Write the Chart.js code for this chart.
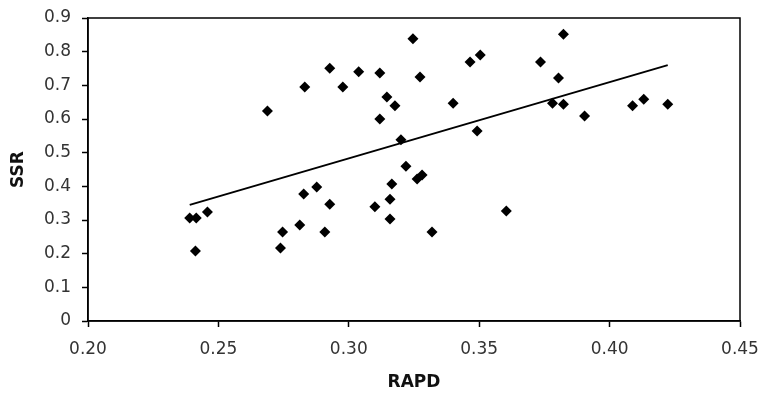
<!DOCTYPE html>
<html lang="en">
<head>
    <meta charset="UTF-8">
    <title>SSR vs RAPD</title>
    <script src="https://cdn.jsdelivr.net/npm/chart.js"></script>
    <style>
        body { margin: 0; background: #fff; }
    </style>
</head>
<body>
    <canvas id="grafico" width="761" height="397"></canvas>

<script>
    // valores
    var rapd = [0.239, 0.2415, 0.2458, 0.2412, 0.2688, 0.2746, 0.2738, 0.2812, 0.2827, 0.2877,
        0.2927, 0.2908, 0.2831, 0.2927, 0.2977, 0.3038, 0.3119, 0.3246, 0.3146, 0.3177,
        0.3119, 0.3273, 0.3200, 0.3219, 0.3262, 0.3281, 0.3165, 0.3158, 0.3100, 0.3158,
        0.3319, 0.3400, 0.3465, 0.3504, 0.3492, 0.3604, 0.3823, 0.3735, 0.3804, 0.3781,
        0.3823, 0.3904, 0.4088, 0.4131, 0.4223];
    var ssr = [0.306, 0.306, 0.324, 0.208, 0.624, 0.264, 0.217, 0.285, 0.377, 0.398,
        0.347, 0.264, 0.695, 0.751, 0.695, 0.740, 0.737, 0.838, 0.665, 0.639,
        0.600, 0.725, 0.538, 0.460, 0.422, 0.434, 0.407, 0.362, 0.339, 0.303,
        0.264, 0.647, 0.769, 0.790, 0.564, 0.327, 0.852, 0.769, 0.722, 0.647,
        0.644, 0.609, 0.639, 0.659, 0.644];

    // linha de tendencia (extremos)
    var tendenciaX = [0.239, 0.4223];
    var tendenciaY = [0.345, 0.760];

    var ticksX = ['0.20', '0.25', '0.30', '0.35', '0.40', '0.45'];
    var ticksY = ['0', '0.1', '0.2', '0.3', '0.4', '0.5', '0.6', '0.7', '0.8', '0.9'];

    var pontos = [];
    for (var i = 0; i < rapd.length; i++) {
        pontos.push({ x: rapd[i], y: ssr[i] });
    }
    var linha = [];
    for (var j = 0; j < tendenciaX.length; j++) {
        linha.push({ x: tendenciaX[j], y: tendenciaY[j] });
    }

    // moldura em volta da area do grafico
    const moldura = {
        id: 'moldura',
        afterDraw(chart) {
            const a = chart.chartArea;
            const ctx = chart.ctx;
            ctx.save();
            ctx.strokeStyle = '#000';
            ctx.lineWidth = 1.5;
            ctx.strokeRect(a.left, a.top, a.right - a.left, a.bottom - a.top);
            ctx.restore();
        }
    };

    const fonteTicks = { family: 'DejaVu Sans', size: 17 };
    const fonteTitulo = { family: 'DejaVu Sans', size: 17, weight: 'bold' };

    new Chart(document.getElementById('grafico'), {
        type: 'scatter',
        data: {
            datasets: [{
                data: pontos,
                pointStyle: 'rectRot',
                pointRadius: 5.5,
                pointHoverRadius: 5.5,
                backgroundColor: '#000',
                borderColor: '#000',
                borderWidth: 0
            }, {
                data: linha,
                showLine: true,
                pointRadius: 0,
                borderColor: '#000',
                borderWidth: 2
            }]
        },
        options: {
            responsive: false,
            animation: false,
            layout: { padding: { left: 0, top: 18, right: 21, bottom: 0 } },
            plugins: {
                legend: { display: false },
                tooltip: { enabled: false }
            },
            scales: {
                x: {
                    type: 'linear',
                    min: 0.2,
                    max: 0.45,
                    afterFit: function (s) {
                        s.height = 76;
                        s.paddingLeft = 0;
                        s.paddingRight = 0;
                    },
                    afterBuildTicks: function (s) {
                        s.ticks = ticksX.map(function (t) { return { value: parseFloat(t) }; });
                    },
                    ticks: {
                        color: '#333',
                        font: fonteTicks,
                        padding: 12,
                        maxRotation: 0,
                        callback: function (v, idx) { return ticksX[idx]; }
                    },
                    grid: { drawOnChartArea: false, tickLength: 6, color: '#000', tickWidth: 1.5 },
                    border: { color: '#000', width: 1.5 },
                    title: { display: true, text: 'RAPD', color: '#111', font: fonteTitulo, padding: { top: 0, bottom: 4 } }
                },
                y: {
                    min: 0,
                    max: 0.9,
                    afterFit: function (s) {
                        s.width = 88;
                        s.paddingTop = 0;
                        s.paddingBottom = 0;
                    },
                    afterBuildTicks: function (s) {
                        s.ticks = ticksY.map(function (t) { return { value: parseFloat(t) }; });
                    },
                    ticks: {
                        color: '#333',
                        font: fonteTicks,
                        padding: 11,
                        callback: function (v, idx) { return ticksY[idx]; }
                    },
                    grid: { drawOnChartArea: false, tickLength: 6, color: '#000', tickWidth: 1.5 },
                    border: { color: '#000', width: 1.5 },
                    title: { display: true, text: 'SSR', color: '#111', font: fonteTitulo, padding: { top: 8, bottom: 0 } }
                }
            }
        },
        plugins: [moldura]
    });
</script>
</body>
</html>
